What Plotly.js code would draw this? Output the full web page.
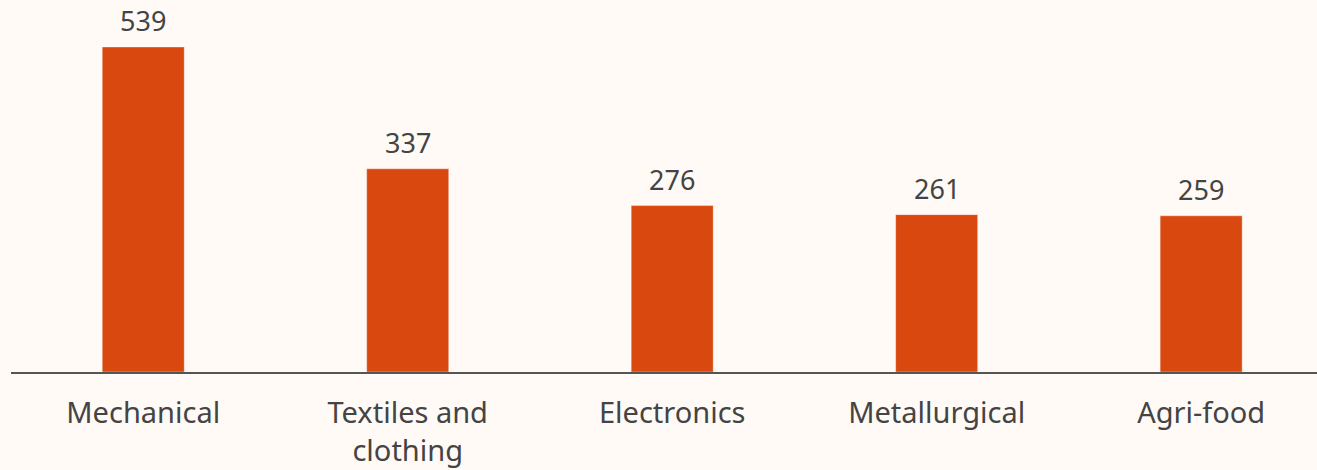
<!DOCTYPE html>
<html><head><meta charset="utf-8">
<script src="https://cdn.plot.ly/plotly-3.0.1.min.js"></script>
<style>html,body{margin:0;padding:0;background:#fffaf6;}#chart{width:1317px;height:470px;}</style>
</head><body><div id="chart"></div>
<script>
const categories = ["Mechanical", "Textiles and<br>clothing", "Electronics", "Metallurgical", "Agri-food"];
const values = [539, 337, 276, 261, 259];

const font = "'Noto Sans', 'Open Sans', sans-serif";
const trace = {
  type: "bar",
  x: categories,
  y: values,
  marker: {color: "#d9480f", line: {color: "rgba(255,255,255,0.35)", width: 1}},
  width: 0.31,
  hoverinfo: "none"
};
const annotations = categories.map((c, i) => ({
  x: c, y: values[i], xref: "x", yref: "y",
  text: String(values[i]), showarrow: false,
  yanchor: "bottom", yshift: 6,
  font: {family: font, size: 27, color: "#444"}
}));
const layout = {
  width: 1317, height: 470,
  margin: {l: 11, r: 0, t: 0, b: 98},
  paper_bgcolor: "#fffaf6", plot_bgcolor: "#fffaf6",
  showlegend: false,
  bargap: 0.69,
  xaxis: {
    type: "category", range: [-0.5, 4.438],
    showline: true, linecolor: "#555", linewidth: 1.5,
    showgrid: false, ticks: "", zeroline: false,
    ticklabelstandoff: 15,
    tickfont: {family: font, size: 29, color: "#444"}
  },
  yaxis: {
    range: [0, 617], visible: false, showgrid: false, zeroline: false
  },
  annotations: annotations
};
Plotly.newPlot("chart", [trace], layout, {staticPlot: true, displayModeBar: false});
</script></body></html>
